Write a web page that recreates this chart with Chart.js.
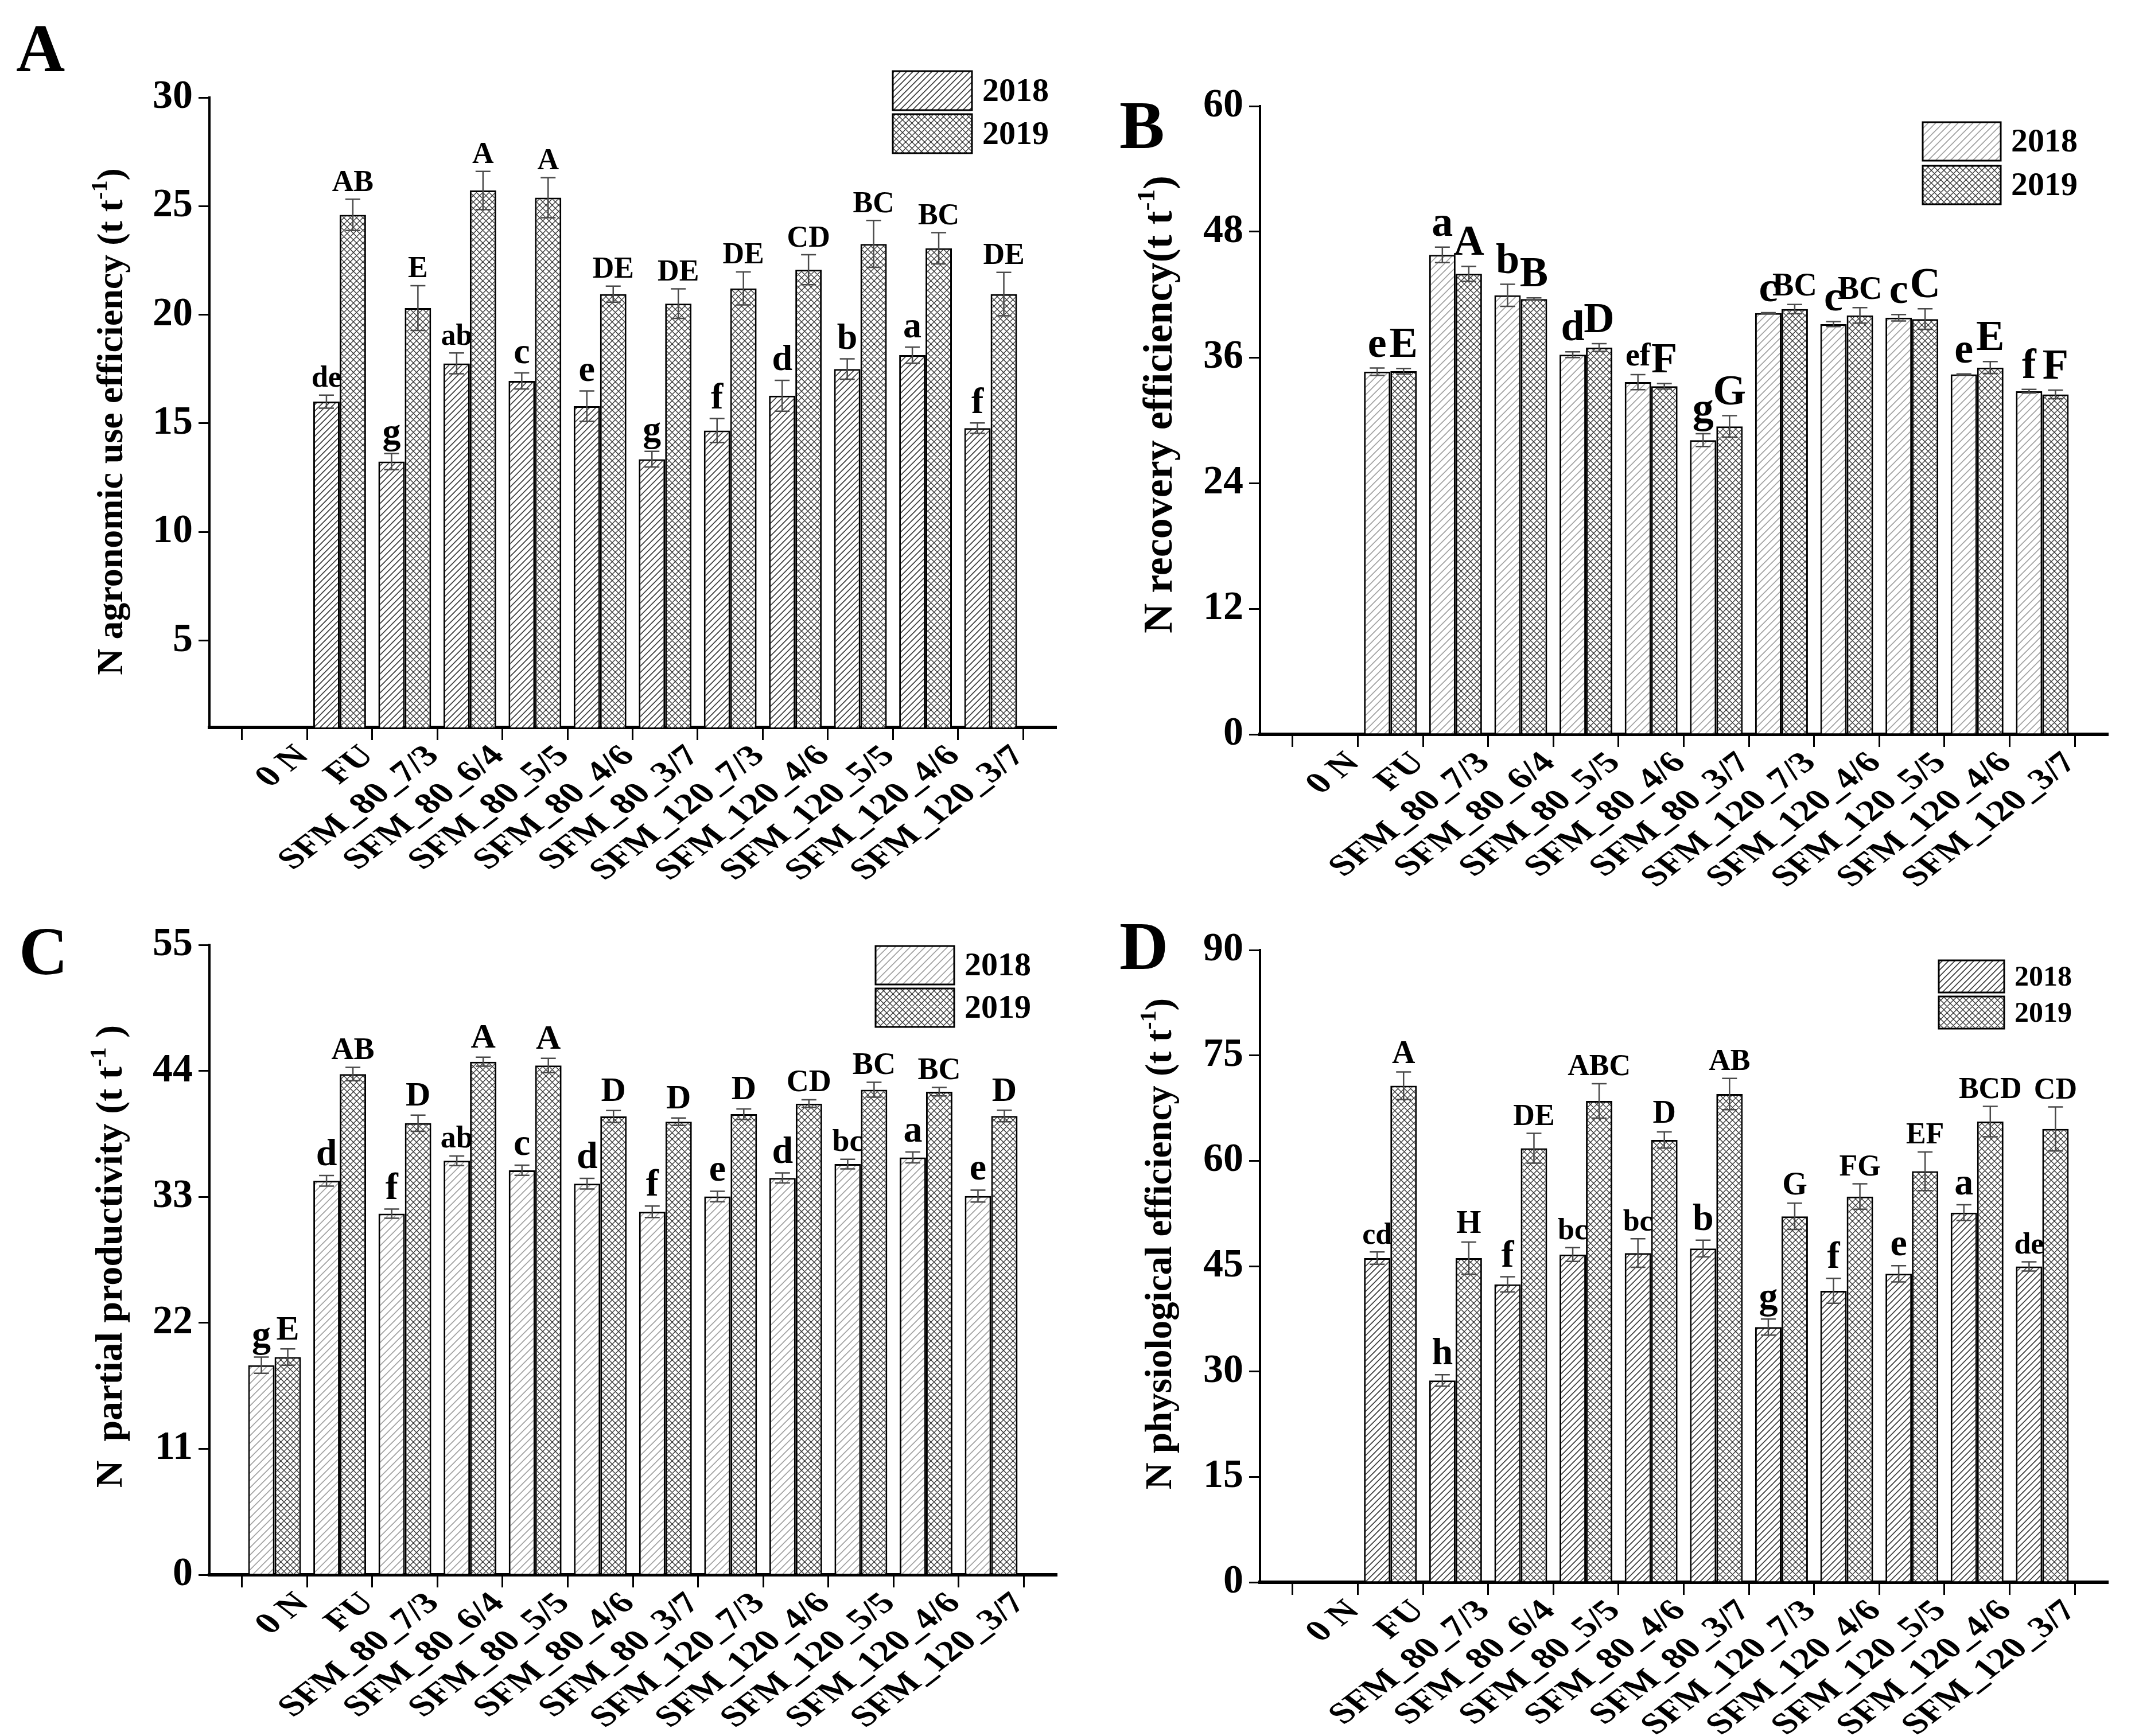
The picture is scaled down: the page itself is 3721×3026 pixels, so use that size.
<!DOCTYPE html>
<html>
<head>
<meta charset="utf-8">
<script src="https://cdn.jsdelivr.net/npm/chart.js@4.4.1/dist/chart.umd.min.js"></script>
<style>
  html, body { margin: 0; padding: 0; background: #fff; }
  #wrap { position: relative; width: 3721px; height: 3026px; }
  #wrap canvas { position: absolute; left: 0; top: 0; }
</style>
</head>
<body>
<div id="wrap">
  <canvas id="chartA" width="3721" height="3026"></canvas>
  <canvas id="chartB" width="3721" height="3026"></canvas>
  <canvas id="chartC" width="3721" height="3026"></canvas>
  <canvas id="chartD" width="3721" height="3026"></canvas>
</div>
<script>
// ---------------- data ----------------
const categories = ['0 N', 'FU', 'SFM_80_7/3', 'SFM_80_6/4', 'SFM_80_5/5', 'SFM_80_4/6', 'SFM_80_3/7',
  'SFM_120_7/3', 'SFM_120_4/6', 'SFM_120_5/5', 'SFM_120_4/6', 'SFM_120_3/7'];
const years = ['2018', '2019'];

// A - N agronomic use efficiency
const agro2018 = [null, 16.0, 13.24, 17.76, 16.95, 15.79, 13.35, 14.67, 16.27, 17.5, 18.14, 14.78];
const agro2018Err = [null, 0.3, 0.37, 0.48, 0.37, 0.7, 0.36, 0.55, 0.71, 0.47, 0.37, 0.24];
const agro2019 = [null, 24.6, 20.31, 25.72, 25.39, 20.95, 20.51, 21.21, 22.07, 23.26, 23.06, 20.95];
const agro2019Err = [null, 0.72, 1.03, 0.88, 0.92, 0.37, 0.68, 0.76, 0.69, 1.08, 0.72, 1.0];
const agro2018Sig = [null, 'de', 'g', 'ab', 'c', 'e', 'g', 'f', 'd', 'b', 'a', 'f'];
const agro2019Sig = [null, 'AB', 'E', 'A', 'A', 'DE', 'DE', 'DE', 'CD', 'BC', 'BC', 'DE'];
const agroTicks = [5, 10, 15, 20, 25, 30];

// B - N recovery efficiency
const recov2018 = [null, 34.64, 45.8, 41.93, 36.26, 33.64, 28.1, 40.23, 39.18, 39.79, 34.38, 32.77];
const recov2018Err = [null, 0.35, 0.74, 1.05, 0.28, 0.72, 0.61, 0.05, 0.24, 0.31, 0.05, 0.17];
const recov2019 = [null, 34.69, 43.98, 41.58, 36.95, 33.25, 29.41, 40.62, 40.01, 39.66, 35.03, 32.46];
const recov2019Err = [null, 0.26, 0.72, 0.1, 0.37, 0.26, 1.03, 0.44, 0.74, 0.98, 0.57, 0.41];
const recov2018Sig = [null, 'e', 'a', 'b', 'd', 'ef', 'g', 'c', 'c', 'c', 'e', 'f'];
const recov2019Sig = [null, 'E', 'A', 'B', 'D', 'F', 'G', 'BC', 'BC', 'C', 'E', 'F'];
const recovTicks = [0, 12, 24, 36, 48, 60];

// C - N partial productivity
const partial2018 = [18.3, 34.4, 31.53, 36.15, 35.32, 34.15, 31.7, 33.03, 34.65, 35.86, 36.44, 33.07];
const partial2018Err = [0.71, 0.46, 0.4, 0.42, 0.44, 0.46, 0.5, 0.46, 0.44, 0.42, 0.48, 0.52];
const partial2019 = [19.01, 43.72, 39.43, 44.8, 44.47, 40.02, 39.56, 40.22, 41.14, 42.35, 42.18, 40.06];
const partial2019Err = [0.71, 0.58, 0.71, 0.4, 0.62, 0.52, 0.33, 0.46, 0.33, 0.65, 0.37, 0.5];
const partial2018Sig = ['g', 'd', 'f', 'ab', 'c', 'd', 'f', 'e', 'd', 'bc', 'a', 'e'];
const partial2019Sig = ['E', 'AB', 'D', 'A', 'A', 'D', 'D', 'D', 'CD', 'BC', 'BC', 'D'];
const partialTicks = [0, 11, 22, 33, 44, 55];

// D - N physiological efficiency
const physio2018 = [null, 46.14, 28.73, 42.41, 46.66, 46.86, 47.51, 36.32, 41.49, 43.91, 52.62, 44.96];
const physio2018Err = [null, 0.88, 0.82, 1.08, 0.98, 2.03, 1.18, 1.15, 1.77, 1.15, 1.11, 0.65];
const physio2019 = [null, 70.68, 46.14, 61.78, 68.52, 62.96, 69.5, 52.09, 54.91, 58.51, 65.58, 64.53];
const physio2019Err = [null, 1.96, 2.29, 2.13, 2.45, 1.15, 2.23, 1.87, 1.8, 2.75, 2.16, 3.14];
const physio2018Sig = [null, 'cd', 'h', 'f', 'bc', 'bc', 'b', 'g', 'f', 'e', 'a', 'de'];
const physio2019Sig = [null, 'A', 'H', 'DE', 'ABC', 'D', 'AB', 'G', 'FG', 'EF', 'BCD', 'CD'];
const physioTicks = [0, 15, 30, 45, 60, 75, 90];

// ---------------- styling ----------------
const FONT = "'Liberation Serif', 'Times New Roman', serif";
const PAGE_W = 3721, PAGE_H = 3026;
const Y_AXIS_W = 220, X_AXIS_H = 300;

function makeHatch(color, lw, step, cross) {
    const c = document.createElement('canvas');
    c.width = step; c.height = step;
    const g = c.getContext('2d');
    g.fillStyle = '#fff';
    g.fillRect(0, 0, step, step);
    g.strokeStyle = color;
    g.lineWidth = lw;
    g.beginPath();
    // "/" lines
    g.moveTo(-2, step + 2); g.lineTo(step + 2, -2);
    g.moveTo(-2, 2); g.lineTo(2, -2);
    g.moveTo(step - 2, step + 2); g.lineTo(step + 2, step - 2);
    if (cross) {
        // "\" lines
        g.moveTo(-2, -2); g.lineTo(step + 2, step + 2);
        g.moveTo(step - 2, -2); g.lineTo(step + 2, 2);
        g.moveTo(-2, step - 2); g.lineTo(2, step + 2);
    }
    g.stroke();
    return document.createElement('canvas').getContext('2d').createPattern(c, 'repeat');
}

const hatchDark = makeHatch('#3a3a3a', 1.6, 11, false);
const hatchLight = makeHatch('#a0a0a0', 1.6, 13, false);
const crossDark = makeHatch('#3a3a3a', 1.4, 11, true);

function pad(arr) { return [null, ...arr, null]; }

const panels = [
    {
        id: 'chartA', letter: 'A', letterAt: [28, 124],
        v18: agro2018, e18: agro2018Err, s18: agro2018Sig,
        v19: agro2019, e19: agro2019Err, s19: agro2019Sig,
        ticks: agroTicks, min: 1, max: 30,
        area: { l: 365, t: 170, r: 1840, b: 1268 },
        title: ['N agronomic use efficiency (t t', '-1', ')'], titleAt: [192, 735], titleSize: 64,
        legend: { x: 1556, y: 124, w: 138, h: 68, gap: 7, size: 58 },
        fill18: hatchDark, sizes: { big: 64, mid: 52, small: 52 }
    },
    {
        id: 'chartB', letter: 'B', letterAt: [1951, 258],
        v18: recov2018, e18: recov2018Err, s18: recov2018Sig,
        v19: recov2019, e19: recov2019Err, s19: recov2019Sig,
        ticks: recovTicks, min: 0, max: 60,
        area: { l: 2196, t: 185, r: 3673, b: 1280 },
        title: ['N recovery efficiency(t t', '-1', ')'], titleAt: [2018, 705], titleSize: 72,
        legend: { x: 3351, y: 213, w: 136, h: 67, gap: 9, size: 58 },
        fill18: hatchLight, sizes: { big: 74, mid: 74, small: 56 }
    },
    {
        id: 'chartC', letter: 'C', letterAt: [33, 1698],
        v18: partial2018, e18: partial2018Err, s18: partial2018Sig,
        v19: partial2019, e19: partial2019Err, s19: partial2019Sig,
        ticks: partialTicks, min: 0, max: 55,
        area: { l: 365, t: 1647, r: 1841, b: 2745 },
        title: ['N  partial productivity (t t', '-1', ' )'], titleAt: [190, 2190], titleSize: 66,
        legend: { x: 1526, y: 1649, w: 137, h: 67, gap: 7, size: 58 },
        fill18: hatchLight, sizes: { big: 66, mid: 60, small: 54 }
    },
    {
        id: 'chartD', letter: 'D', letterAt: [1951, 1689],
        v18: physio2018, e18: physio2018Err, s18: physio2018Sig,
        v19: physio2019, e19: physio2019Err, s19: physio2019Sig,
        ticks: physioTicks, min: 0, max: 90,
        area: { l: 2196, t: 1656, r: 3673, b: 2758 },
        title: ['N physiological efficiency (t t', '-1', ')'], titleAt: [2020, 2168], titleSize: 65,
        legend: { x: 3379, y: 1674, w: 114, h: 56, gap: 7, size: 50 },
        fill18: hatchDark, sizes: { big: 66, mid: 56, small: 52 }
    }
];

function sigSize(lab, sizes) {
    if (/^[a-z]$/.test(lab)) return sizes.big;
    if (/^[A-Z]$/.test(lab)) return sizes.mid;
    return sizes.small;
}

// ---------------- plugin: error bars, letters, legend, titles, x labels ----------------
const decorPlugin = {
    id: 'decor',
    afterDatasetsDraw(chart) {
        const p = chart.options.plugins.decor;
        const ctx = chart.ctx;
        const yScale = chart.scales.y;
        chart.data.datasets.forEach((ds, di) => {
            const meta = chart.getDatasetMeta(di);
            meta.data.forEach((bar, i) => {
                const v = ds.data[i];
                if (v == null) return;
                const e = ds.errors[i] || 0;
                const yt = yScale.getPixelForValue(v + e);
                const yb = yScale.getPixelForValue(v - e);
                ctx.save();
                ctx.strokeStyle = '#4a4a4a';
                ctx.lineWidth = 2.5;
                ctx.beginPath();
                ctx.moveTo(bar.x, yt); ctx.lineTo(bar.x, yb);
                ctx.moveTo(bar.x - 13, yt); ctx.lineTo(bar.x + 13, yt);
                ctx.moveTo(bar.x - 13, yb); ctx.lineTo(bar.x + 13, yb);
                ctx.stroke();
                const lab = ds.letters[i];
                if (lab) {
                    ctx.fillStyle = '#000';
                    ctx.font = 'bold ' + sigSize(lab, p.sizes) + 'px ' + FONT;
                    ctx.textAlign = 'center';
                    ctx.textBaseline = 'bottom';
                    ctx.fillText(lab, bar.x, yt - 2);
                }
                ctx.restore();
            });
        });
    },
    afterDraw(chart) {
        const p = chart.options.plugins.decor;
        const ctx = chart.ctx;
        const xScale = chart.scales.x;

        // category labels: 45 degree text, stretched horizontally as in the source figure
        chart.data.labels.forEach((lab, i) => {
            if (!lab) return;
            const x = xScale.getPixelForValue(i);
            ctx.save();
            ctx.translate(x + 50, xScale.top + 42);
            ctx.transform(1.3, 0, 0, 1, 0, 0);
            ctx.rotate(-Math.PI / 4);
            ctx.fillStyle = '#000';
            ctx.font = 'bold 52px ' + FONT;
            ctx.textAlign = 'right';
            ctx.textBaseline = 'middle';
            ctx.fillText(lab, 0, 0);
            ctx.restore();
        });

        ctx.save();
        // panel letter
        ctx.fillStyle = '#000';
        ctx.font = 'bold 118px ' + FONT;
        ctx.textAlign = 'left';
        ctx.textBaseline = 'alphabetic';
        ctx.fillText(p.letter, p.letterAt[0], p.letterAt[1]);

        // legend
        const lg = p.legend;
        chart.data.datasets.forEach((ds, i) => {
            const y0 = lg.y + i * (lg.h + lg.gap);
            ctx.fillStyle = ds.backgroundColor;
            ctx.fillRect(lg.x, y0, lg.w, lg.h);
            ctx.strokeStyle = '#000';
            ctx.lineWidth = 3;
            ctx.strokeRect(lg.x, y0, lg.w, lg.h);
            ctx.fillStyle = '#000';
            ctx.font = 'bold ' + lg.size + 'px ' + FONT;
            ctx.textBaseline = 'middle';
            ctx.fillText(ds.label, lg.x + lg.w + 18, y0 + lg.h / 2 + 3);
        });

        // y axis title with superscript
        const [main, sup, tail] = p.title;
        const fs = p.titleSize;
        ctx.translate(p.titleAt[0], p.titleAt[1]);
        ctx.rotate(-Math.PI / 2);
        ctx.textBaseline = 'alphabetic';
        ctx.font = 'bold ' + fs + 'px ' + FONT;
        const w1 = ctx.measureText(main).width;
        const w3 = ctx.measureText(tail).width;
        ctx.font = 'bold ' + Math.round(fs * 0.62) + 'px ' + FONT;
        const w2 = ctx.measureText(sup).width;
        const x0 = -(w1 + w2 + w3) / 2;
        const base = fs * 0.33;
        ctx.font = 'bold ' + fs + 'px ' + FONT;
        ctx.fillText(main, x0, base);
        ctx.fillText(tail, x0 + w1 + w2, base);
        ctx.font = 'bold ' + Math.round(fs * 0.62) + 'px ' + FONT;
        ctx.fillText(sup, x0 + w1, base - fs * 0.42);
        ctx.restore();
    }
};

// ---------------- build charts ----------------
function createPanel(p) {
    const ctx = document.getElementById(p.id);
    const labels = ['', ...categories, ''];
    new Chart(ctx, {
        type: 'bar',
        data: {
            labels: labels,
            datasets: [
                {
                    label: years[0],
                    data: pad(p.v18),
                    errors: pad(p.e18),
                    letters: pad(p.s18),
                    backgroundColor: p.fill18,
                    borderColor: '#000',
                    borderWidth: 3
                },
                {
                    label: years[1],
                    data: pad(p.v19),
                    errors: pad(p.e19),
                    letters: pad(p.s19),
                    backgroundColor: crossDark,
                    borderColor: '#000',
                    borderWidth: 3
                }
            ]
        },
        options: {
            responsive: false,
            animation: false,
            devicePixelRatio: 1,
            layout: {
                padding: {
                    left: p.area.l - Y_AXIS_W,
                    top: p.area.t,
                    right: PAGE_W - p.area.r,
                    bottom: PAGE_H - p.area.b - X_AXIS_H
                }
            },
            datasets: {
                bar: { categoryPercentage: 0.81, barPercentage: 1.0 }
            },
            plugins: {
                legend: { display: false },
                tooltip: { enabled: false },
                decor: {
                    letter: p.letter, letterAt: p.letterAt, legend: p.legend,
                    title: p.title, titleAt: p.titleAt, titleSize: p.titleSize,
                    sizes: p.sizes
                }
            },
            scales: {
                x: {
                    offset: false,
                    afterFit: (scale) => { scale.height = X_AXIS_H; },
                    grid: {
                        drawOnChartArea: false,
                        drawTicks: true,
                        tickLength: 22,
                        color: '#000',
                        lineWidth: 3
                    },
                    border: { display: true, color: '#000', width: 6 },
                    ticks: { display: false, autoSkip: false }
                },
                y: {
                    min: p.min,
                    max: p.max,
                    afterFit: (scale) => { scale.width = Y_AXIS_W; },
                    afterBuildTicks: (scale) => { scale.ticks = p.ticks.map(v => ({ value: v })); },
                    grid: {
                        drawOnChartArea: false,
                        drawTicks: true,
                        tickLength: 19,
                        color: '#000',
                        lineWidth: 3
                    },
                    border: { display: true, color: '#000', width: 4 },
                    ticks: {
                        padding: 10,
                        color: '#000',
                        font: { family: FONT, size: 70, weight: 'bold' }
                    }
                }
            }
        },
        plugins: [decorPlugin]
    });
}

panels.forEach(createPanel);
</script>
</body>
</html>
